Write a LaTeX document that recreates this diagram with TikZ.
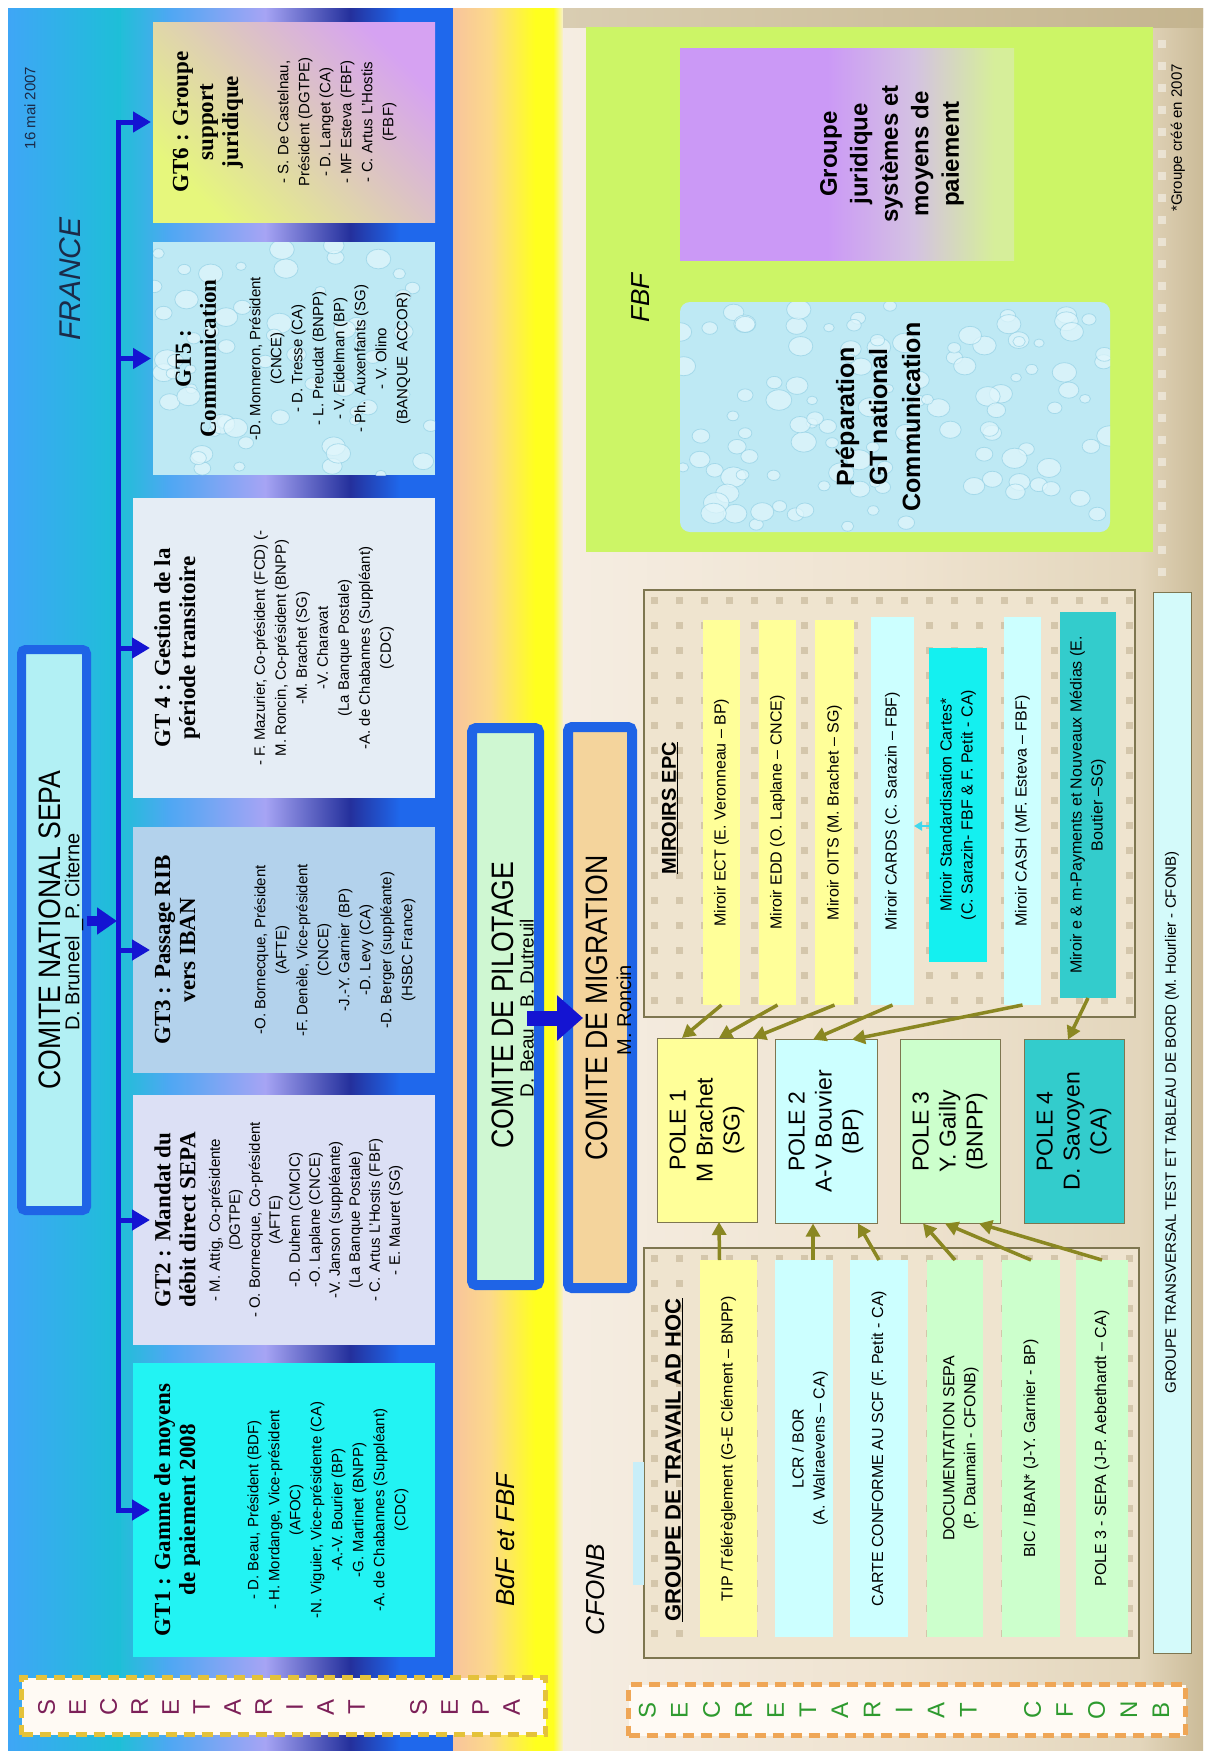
\documentclass[tikz,border=0pt]{standalone}
\usepackage{fontspec}
\setmainfont{Liberation Sans}
\newfontfamily\tms{Liberation Serif}
\newfontfamily\nar[FakeStretch=0.86]{Liberation Sans}
\usetikzlibrary{arrows.meta,calc}
\newcommand\fsz[2]{\fontsize{#1}{#2}\selectfont}
\definecolor{fazure}{HTML}{3FA6F6}
\definecolor{fteal}{HTML}{1CC0D6}
\definecolor{pteal}{HTML}{22BED8}
\definecolor{pazure}{HTML}{4FA7F3}
\definecolor{plav}{HTML}{A6A4F4}
\definecolor{pnavy}{HTML}{24309C}
\definecolor{pblue}{HTML}{1F68EC}
\definecolor{opeach}{HTML}{F8C49C}
\definecolor{oorange}{HTML}{FCD98A}
\definecolor{oyellow}{HTML}{FFFF1E}
\definecolor{opale}{HTML}{F8F0D0}
\definecolor{cfa}{HTML}{F5EDE2}
\definecolor{cfb}{HTML}{EFE3D0}
\definecolor{cfc}{HTML}{E3D6BC}
\definecolor{cfd}{HTML}{CBBB98}
\definecolor{tanL}{HTML}{D9CDB2}
\definecolor{tanR}{HTML}{C4B48F}
\definecolor{linkblue}{HTML}{1414D2}
\definecolor{cblue}{HTML}{1F64E6}
\definecolor{cnsfill}{HTML}{B2F0F4}
\definecolor{pilfill}{HTML}{CFF7D2}
\definecolor{migfill}{HTML}{F4D49C}
\definecolor{gtsixY}{HTML}{E6F77C}
\definecolor{gtsixP}{HTML}{D6A2F2}
\definecolor{water}{HTML}{BEE9F4}
\definecolor{bubfill}{HTML}{E2F7FC}
\definecolor{bubedge}{HTML}{86C9E0}
\definecolor{gtfour}{HTML}{E5EDF5}
\definecolor{gtthree}{HTML}{B3D2EC}
\definecolor{gttwo}{HTML}{DCE0F5}
\definecolor{gtone}{HTML}{22F3F3}
\definecolor{fbfgreen}{HTML}{CCF566}
\definecolor{gjP}{HTML}{CB99F6}
\definecolor{gjM}{HTML}{D4C2E2}
\definecolor{gjG}{HTML}{D6EE9A}
\definecolor{cream}{HTML}{EFE4CF}
\definecolor{sqc}{HTML}{CBBD9F}
\definecolor{olivec}{HTML}{8A8722}
\definecolor{framec}{HTML}{7E7650}
\definecolor{ly}{HTML}{FFFF99}
\definecolor{lc}{HTML}{CCFFFF}
\definecolor{lg}{HTML}{CCFFCC}
\definecolor{tealc}{HTML}{33CCCC}
\definecolor{cyanc}{HTML}{14F0F0}
\definecolor{cyanarr}{HTML}{40D8EC}
\definecolor{gtrfill}{HTML}{D4FAFA}
\definecolor{secyel}{HTML}{E4C23A}
\definecolor{secor}{HTML}{EFA656}
\definecolor{secmag}{HTML}{7C1F58}
\definecolor{secgreen}{HTML}{2E9A2E}
\definecolor{secfill}{HTML}{FFFAF4}
\definecolor{darktxt}{HTML}{1B2A48}
\definecolor{tagc}{HTML}{C8EEF8}
\pgfdeclarehorizontalshading{gtpanel}{100bp}{color(0bp)=(pteal); color(25bp)=(pteal); color(32.4bp)=(pazure); color(46.7bp)=(plav); color(59.5bp)=(pnavy); color(67bp)=(pblue); color(100bp)=(pblue)}
\pgfdeclarehorizontalshading{oband}{100bp}{color(0bp)=(opeach); color(25bp)=(opeach); color(41.8bp)=(oorange); color(62.3bp)=(oyellow); color(70.5bp)=(oyellow); color(75bp)=(opale); color(100bp)=(opale)}
\pgfdeclarehorizontalshading{cfbg}{100bp}{color(0bp)=(cfa); color(25bp)=(cfa); color(51bp)=(cfb); color(70bp)=(cfc); color(75bp)=(cfd); color(100bp)=(cfd)}
\pgfdeclarehorizontalshading{gjshade}{100bp}{color(0bp)=(gjP); color(25bp)=(gjP); color(47bp)=(gjP); color(60bp)=(gjM); color(72bp)=(gjG); color(100bp)=(gjG)}
\newcommand\bubbles[5]{%
  \foreach \i in {1,...,#5}{%
    \pgfmathsetmacro\bbx{#1+(#2-#1)*rnd}%
    \pgfmathsetmacro\bby{#3+(#4-#3)*rnd}%
    \pgfmathsetmacro\bbr{5+8*rnd}%
    \fill[bubfill,opacity=.7] (\bbx,\bby) ellipse [x radius=\bbr pt, y radius=0.8*\bbr pt];%
    \draw[bubedge,opacity=.55,line width=.8pt] (\bbx,\bby) ellipse [x radius=\bbr pt, y radius=0.8*\bbr pt];%
  }}
\begin{document}
\begin{tikzpicture}[x=1pt,y=-1pt,
  box/.style={inner sep=0pt,outer sep=0pt,rectangle},
  txt/.style={rotate=90,align=center,inner sep=0pt},
  gtt/.style={txt,font=\tms\bfseries\fsz{23}{25}},
  gtb/.style={txt,font=\fsz{15}{21}},
  comt/.style={txt,font=\nar\fsz{31}{31}},
  coms/.style={txt,font=\fsz{19}{20}},
  blk/.style={txt,font=\itshape\fsz{26}{28}},
  conn/.style={draw=linkblue,line width=5pt},
  barr/.style={conn,-{Triangle[length=18pt,width=20pt]}},
  oarr/.style={draw=olivec,line width=3.5pt,-{Triangle[length=13pt,width=14pt]}},
  ctr/.style={box,draw=cblue,line width=9pt,rounded corners=4pt},
  cont/.style={box,draw=framec,line width=1.2pt,fill=cream},
  bart/.style={txt,font=\fsz{16}{21}},
  pole/.style={box,draw=framec,line width=1pt,minimum width=100pt,minimum height=184pt},
  polet/.style={txt,font=\fsz{23}{27}},
  sq/.style={fill=sqc,opacity=.75},
  secbox/.style={box,line width=5pt,dash pattern=on 11pt off 7pt,fill=secfill}
]
\useasboundingbox (0,0) rectangle (1210,1751);
\fill[white] (0,0) rectangle (1210,1751);
\pgfmathsetseed{7}
% ---------- backgrounds
\fill[fteal] (8,8) rectangle (453,1750);
\shade[left color=fazure,right color=fteal] (8,8) rectangle (125,1750);
\shade[shading=gtpanel] (121,8) rectangle (453,1750);
\shade[shading=oband] (453,8) rectangle (563,1750);
\shade[shading=cfbg] (563,8) rectangle (1203,1750);
\shade[left color=tanL,right color=tanR] (563,8) rectangle (1203,27);
\foreach \yy in {40,62,...,580}{\fill[white,opacity=.45] (1158,\yy) rectangle ++(8,8);}

% ---------- FRANCE
\node[txt,font=\fsz{15}{16},text=darktxt] (date) at (30,108) {16 mai 2007};
\node[txt,font=\itshape\fsz{30}{30},text=darktxt] (france) at (70,279) {FRANCE};

\node[box,left color=gtsixY,right color=gtsixP,shading angle=135,minimum width=282pt,minimum height=200pt] (gt6) at (294,122) {};
\node[box,fill=water,minimum width=282pt,minimum height=233pt] (gt5) at (294,358.5) {};
\begin{scope}
\clip (153,242) rectangle (435,475);
\bubbles{153}{435}{242}{475}{60}
\end{scope}
\node[box,fill=gtfour,minimum width=302pt,minimum height=300pt] (gt4) at (284,648) {};
\node[box,fill=gtthree,minimum width=302pt,minimum height=246pt] (gt3) at (284,950) {};
\node[box,fill=gttwo,minimum width=302pt,minimum height=250pt] (gt2) at (284,1220) {};
\node[box,fill=gtone,minimum width=302pt,minimum height=294pt] (gt1) at (284,1510) {};

\node[gtt] (gt6t) at (208,122) {GT6 : Groupe\\support\\juridique};
\node[gtb] (gt6b) at (337,122) {- S. De Castelnau,\\Président (DGTPE)\\- D. Langet (CA)\\- MF Esteva (FBF)\\- C. Artus L'Hostis\\(FBF)};
\node[gtt] (gt5t) at (196,358.5) {GT5 :\\Communication};
\node[gtb] (gt5b) at (330,358.5) {-D. Monneron, Président\\(CNCE)\\- D. Tresse (CA)\\- L. Preudat (BNPP)\\- V. Eidelman (BP)\\- Ph. Auxenfants (SG)\\- V. Olino\\(BANQUE ACCOR)};
\node[gtt] (gt4t) at (177,648) {GT 4 : Gestion de la\\période transitoire};
\node[gtb] (gt4b) at (324,648) {- F. Mazurier, Co-président (FCD) (-\\M. Roncin, Co-président (BNPP)\\-M. Brachet (SG)\\-V. Charavat\\(La Banque Postale)\\-A. de Chabannes (Suppléant)\\(CDC)};
\node[gtt] (gt3t) at (175,950) {GT3 : Passage RIB\\vers IBAN};
\node[gtb] (gt3b) at (335,950) {-O. Bornecque, Président\\(AFTE)\\-F. Denèle, Vice-président\\(CNCE)\\-J.-Y. Garnier (BP)\\-D. Levy (CA)\\-D. Berger (suppléante)\\(HSBC France)};
\node[gtt] (gt2t) at (175,1220) {GT2 : Mandat du\\débit direct SEPA};
\node[gtb,font=\fsz{15}{20}] (gt2b) at (306,1220) {- M. Attig, Co-présidente\\(DGTPE)\\- O. Bornecque, Co-président\\(AFTE)\\-D. Duhem (CMCIC)\\-O. Laplane (CNCE)\\-V. Janson (suppléante)\\(La Banque Postale)\\- C. Artus L'Hostis (FBF)\\- E. Mauret (SG)};
\node[gtt] (gt1t) at (177,1510) {GT1 : Gamme de moyens\\de paiement 2008};
\node[gtb] (gt1b) at (328,1510) {- D. Beau, Président (BDF)\\- H. Mordange, Vice-président\\(AFOC)\\-N. Viguier, Vice-présidente (CA)\\-A.-V. Bourier (BP)\\-G. Martinet (BNPP)\\-A. de Chabannes  (Suppléant)\\(CDC)};

\node[ctr,fill=cnsfill,minimum width=65pt,minimum height=561pt] (cns) at (54,930) {};
\node[comt] (cnst) at (50,930) {COMITE NATIONAL SEPA};
\node[coms,font=\fsz{20}{20}] (cnss) at (74,932) {D. Bruneel \_P. Citerne};

\coordinate (vtop) at (118,119.5);
\coordinate (vbot) at (118,1512.5);
\draw[conn] (vtop) -- (vbot);
\draw[barr] (vtop |- gt6.west) -- ($(gt6.west)+(-2,0)$);
\draw[barr] (vtop |- gt5.west) -- ($(gt5.west)+(-2,0)$);
\draw[barr] (vtop |- gt4.west) -- ($(gt4.west)+(17,0)$);
\draw[barr] (vtop |- gt3.west) -- ($(gt3.west)+(17,0)$);
\draw[barr] (vtop |- gt2.west) -- ($(gt2.west)+(17,0)$);
\draw[barr] (vtop |- gt1.west) -- ($(gt1.west)+(17,0)$);
\draw[draw=linkblue,line width=10pt,-{Triangle[length=20pt,width=26pt]}] ($(cns.east)+(0,-9)$) -- ($(vtop |- cns.east)+(-1,-9)$);

% ---------- BdF et FBF band
\node[ctr,line width=10pt,fill=pilfill,minimum width=67pt,minimum height=557pt] (pil) at (505.5,1006.5) {};
\node[comt] (pilt) at (503,1005) {COMITE DE PILOTAGE};
\node[coms] (pils) at (528.5,1008) {D. Beau \_ B. Dutreuil};
\node[ctr,line width=10pt,fill=migfill,minimum width=64pt,minimum height=561pt] (mig) at (600,1007.5) {};
\node[comt] (migt) at (597,1008) {COMITE DE MIGRATION};
\node[coms,font=\fsz{20}{20}] (migs) at (624,1010) {M. Roncin};
\draw[draw=linkblue,line width=15pt,-{Triangle[length=26pt,width=44pt]}] ($(pil.east)+(-12,11.5)$) -- ($(mig.west)+(15,10.5)$);
\node[blk] (bdf) at (505,1540) {BdF et FBF};

% ---------- CFONB / FBF
\node[box,fill=fbfgreen,minimum width=567pt,minimum height=525pt] (fbf) at (869.5,289.5) {};
\node[blk] (fbft) at (641,298) {FBF};
\node[box,shading=gjshade,minimum width=334pt,minimum height=212pt] (gjur) at (847,154) {};
\node[txt,font=\bfseries\fsz{24}{30.5}] (gjurt) at (892,154) {Groupe\\juridique\\systèmes et\\moyens de\\paiement};
\node[box,fill=water,rounded corners=10pt,minimum width=430pt,minimum height=230pt] (prep) at (895,417) {};
\begin{scope}
\clip[rounded corners=10pt] (680,302) rectangle (1110,532);
\bubbles{680}{1110}{302}{532}{110}
\end{scope}
\node[txt,font=\bfseries\fsz{25}{33}] (prept) at (878,417) {Préparation\\GT national\\Communication};
\node[blk] (cfonb) at (596,1590) {CFONB};

% MIROIRS EPC
\node[cont,minimum width=491pt,minimum height=427pt] (mir) at (889.5,803.5) {};
\foreach \xx in {651,676,...,1126}{\foreach \yy in {597,622,...,1005}{\fill[sq] (\xx,\yy) rectangle ++(7,7);}}
\node[txt,font=\bfseries\fsz{20}{22}] (mirt) at (670,808) {\underline{MIROIRS EPC}};
\node[box,fill=ly,minimum width=37pt,minimum height=385pt] (m1) at (721.5,812.5) {};
\node[box,fill=ly,minimum width=37pt,minimum height=385pt] (m2) at (777.5,812.5) {};
\node[box,fill=ly,minimum width=39pt,minimum height=385pt] (m3) at (834.5,812.5) {};
\node[box,fill=lc,minimum width=43pt,minimum height=388pt] (m4) at (892.5,811) {};
\node[box,fill=cyanc,minimum width=58pt,minimum height=314pt] (m5) at (958,805) {};
\node[box,fill=lc,minimum width=37pt,minimum height=388pt] (m6) at (1022.5,811) {};
\node[box,fill=tealc,minimum width=56pt,minimum height=386pt] (m7) at (1088,805) {};
\node[bart] (m1t) at (m1.center) {Miroir ECT (E. Veronneau – BP)};
\node[bart] (m2t) at (m2.center) {Miroir EDD (O. Laplane – CNCE)};
\node[bart] (m3t) at (m3.center) {Miroir OITS (M. Brachet – SG)};
\node[bart] (m4t) at (m4.center) {Miroir CARDS (C. Sarazin – FBF)};
\node[bart] (m5t) at (m5.center) {Miroir Standardisation Cartes*\\(C. Sarazin- FBF \& F. Petit - CA)};
\node[bart] (m6t) at (m6.center) {Miroir CASH (MF. Esteva – FBF)};
\node[bart] (m7t) at (m7.center) {Miroir e \& m-Payments et Nouveaux Médias (E.\\Boutier –SG)};
\draw[draw=cyanarr,line width=2pt,-{Triangle[length=8pt,width=9pt]}] ($(m5.west)+(0,21)$) -- ($(m4.east)+(0,15)$);

% POLES
\node[pole,fill=ly] (pole1) at (707,1130) {};
\node[pole,fill=lc,minimum width=102pt] (pole2) at (826,1131.5) {};
\node[pole,fill=lg] (pole3) at (950,1131.5) {};
\node[pole,fill=tealc] (pole4) at (1074,1131.5) {};
\node[polet] (p1t) at (pole1.center) {POLE 1\\M Brachet\\(SG)};
\node[polet] (p2t) at (pole2.center) {POLE 2\\A-V Bouvier\\(BP)};
\node[polet] (p3t) at (pole3.center) {POLE 3\\Y. Gailly\\(BNPP)};
\node[polet] (p4t) at (pole4.center) {POLE 4\\D. Savoyen\\(CA)};

% GROUPE DE TRAVAIL AD HOC
\node[cont,minimum width=495pt,minimum height=410pt] (adh) at (891.5,1453) {};
\foreach \xx in {651,676,...,1126}{\foreach \yy in {1255,1280,...,1645}{\fill[sq] (\xx,\yy) rectangle ++(7,7);}}
\node[box,fill=tagc,minimum width=11pt,minimum height=123pt] (tag) at (638.5,1523.5) {};
\node[txt,font=\bfseries\fsz{22}{24}] (adht) at (674,1460) {\underline{GROUPE DE TRAVAIL AD HOC}};
\node[box,fill=ly,minimum width=57pt,minimum height=377pt] (a1) at (728.5,1448.5) {};
\node[box,fill=lc,minimum width=58pt,minimum height=377pt] (a2) at (804,1448.5) {};
\node[box,fill=lc,minimum width=58pt,minimum height=377pt] (a3) at (879,1448.5) {};
\node[box,fill=lg,minimum width=56pt,minimum height=377pt] (a4) at (955,1448.5) {};
\node[box,fill=lg,minimum width=58pt,minimum height=377pt] (a5) at (1031,1448.5) {};
\node[box,fill=lg,minimum width=52pt,minimum height=377pt] (a6) at (1102,1448.5) {};
\node[bart] (a1t) at (a1.center) {TIP /Télérèglement  (G-E Clément – BNPP)};
\node[bart] (a2t) at ($(a2.center)+(6,0)$) {LCR / BOR\\(A. Walraevens – CA)};
\node[bart] (a3t) at (a3.center) {CARTE CONFORME AU SCF  (F. Petit - CA)};
\node[bart] (a4t) at ($(a4.center)+(6,0)$) {DOCUMENTATION SEPA\\(P. Daumain - CFONB)};
\node[bart] (a5t) at (a5.center) {BIC / IBAN* (J-Y. Garnier - BP)};
\node[bart] (a6t) at (a6.center) {POLE 3 - SEPA  (J-P. Aebethardt – CA)};

% arrows mirrors -> poles
\draw[oarr] (m1.south) -- ($(pole1.north)+(-25,0)$);
\draw[oarr] (m2.south) -- ($(pole1.north)+(12,0)$);
\draw[oarr] (m3.south) -- ($(pole1.north east)+(-4,0)$);
\draw[oarr] (m4.south) -- ($(pole2.north)+(-13,0)$);
\draw[oarr] (m6.south) -- ($(pole2.north)+(26,0)$);
\draw[oarr] (m7.south) -- ($(pole4.north)+(-6,0)$);
% arrows ad hoc -> poles
\draw[oarr] ($(a1.north)+(-9,0)$) -- ($(pole1.south)+(12,0)$);
\draw[oarr] ($(a2.north)+(9,0)$) -- ($(pole2.south)+(-13,0)$);
\draw[oarr] (a3.north) -- ($(pole2.south)+(32,0)$);
\draw[oarr] (a4.north) -- ($(pole3.south)+(-27,0)$);
\draw[oarr] (a5.north) -- ($(pole3.south)+(-5,0)$);
\draw[oarr] (a6.north) -- ($(pole3.south)+(29,0)$);

% transversal + note
\node[box,draw=framec,line width=1pt,fill=gtrfill,minimum width=38pt,minimum height=1061pt] (gtr) at (1172,1122.5) {};
\node[txt,font=\fsz{15}{17}] (gtrt) at (gtr.center) {GROUPE TRANSVERSAL TEST ET TABLEAU DE BORD (M. Hourlier - CFONB)};
\node[txt,font=\fsz{15}{17}] (note) at (1178,138) {*Groupe créé en 2007};

% ---------- SECRETARIAT boxes
\node[secbox,draw=secyel,minimum width=524pt,minimum height=57pt] (secS) at (283.5,1706) {};
\node[txt,font=\fsz{24}{31},text=secmag] (secSt) at (279,1707) {S\\E\\C\\R\\E\\T\\A\\R\\I\\A\\T\\[31pt]S\\E\\P\\A};
\node[secbox,draw=secor,minimum width=557pt,minimum height=51pt] (secC) at (907,1710) {};
\node[txt,font=\fsz{24}{32.1},text=secgreen] (secCt) at (904,1710) {S\\E\\C\\R\\E\\T\\A\\R\\I\\A\\T\\[32.1pt]C\\F\\O\\N\\B};
\end{tikzpicture}
\end{document}
